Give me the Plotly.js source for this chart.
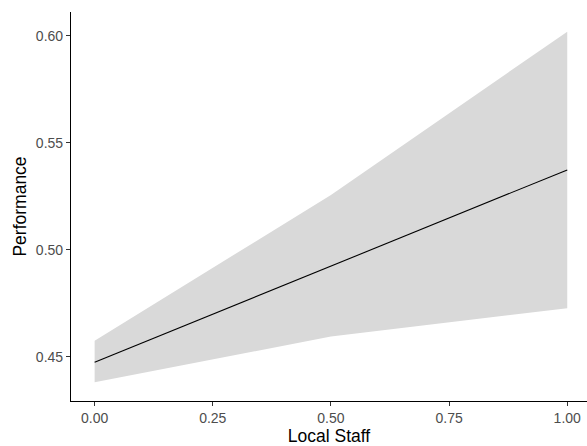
<!DOCTYPE html>
<html>
<head>
<meta charset="utf-8">
<script src="https://cdn.plot.ly/plotly-3.0.1.min.js"></script>
<style>
html, body { margin: 0; padding: 0; background: #fff; }
#chart { width: 587px; height: 446px; }
</style>
</head>
<body>
<div id="chart"></div>
<script>
// Data
const localStaff = [0, 0.5, 1];
const performanceFit = [0.4475, 0.4925, 0.5374];
const ciUpper = [0.4576, 0.5257, 0.6020];
const ciLower = [0.4382, 0.4595, 0.4728];
const xTickVals = [0, 0.25, 0.5, 0.75, 1];
const xTickText = ["0.00", "0.25", "0.50", "0.75", "1.00"];
const yTickVals = [0.45, 0.50, 0.55, 0.60];
const yTickText = ["0.45", "0.50", "0.55", "0.60"];

const traces = [
  {
    x: localStaff, y: ciLower, type: 'scatter', mode: 'lines',
    line: {width: 0, color: 'rgba(0,0,0,0)'}, hoverinfo: 'skip', showlegend: false
  },
  {
    x: localStaff, y: ciUpper, type: 'scatter', mode: 'lines',
    fill: 'tonexty', fillcolor: '#d9d9d9',
    line: {width: 0, color: 'rgba(0,0,0,0)'}, hoverinfo: 'skip', showlegend: false
  },
  {
    x: localStaff, y: performanceFit, type: 'scatter', mode: 'lines',
    line: {color: '#000000', width: 1.1}, showlegend: false
  }
];

const tickFont = {family: 'Liberation Sans, Arial, sans-serif', size: 14, color: '#4d4d4d'};
const titleFont = {family: 'Liberation Sans, Arial, sans-serif', size: 17.5, color: '#000000'};

const layout = {
  width: 587, height: 446,
  margin: {l: 71, r: 0, t: 12, b: 45},
  paper_bgcolor: '#ffffff', plot_bgcolor: '#ffffff',
  showlegend: false,
  xaxis: {
    range: [-0.05, 1.0418],
    tickvals: xTickVals, ticktext: xTickText,
    showgrid: false, zeroline: false,
    showline: true, linecolor: '#000000', linewidth: 1.1,
    ticks: 'outside', ticklen: 4, tickwidth: 1, tickcolor: '#333333',
    tickfont: tickFont,
    title: {text: 'Local Staff', font: titleFont, standoff: 2},
    automargin: false
  },
  yaxis: {
    range: [0.4294, 0.6112],
    tickvals: yTickVals, ticktext: yTickText,
    showgrid: false, zeroline: false,
    showline: true, linecolor: '#000000', linewidth: 1.1,
    ticks: 'outside', ticklen: 4, tickwidth: 1, tickcolor: '#333333',
    tickfont: tickFont,
    title: {text: 'Performance', font: titleFont, standoff: 4},
    automargin: false
  }
};

Plotly.newPlot('chart', traces, layout, {displayModeBar: false, staticPlot: true});
</script>
</body>
</html>
